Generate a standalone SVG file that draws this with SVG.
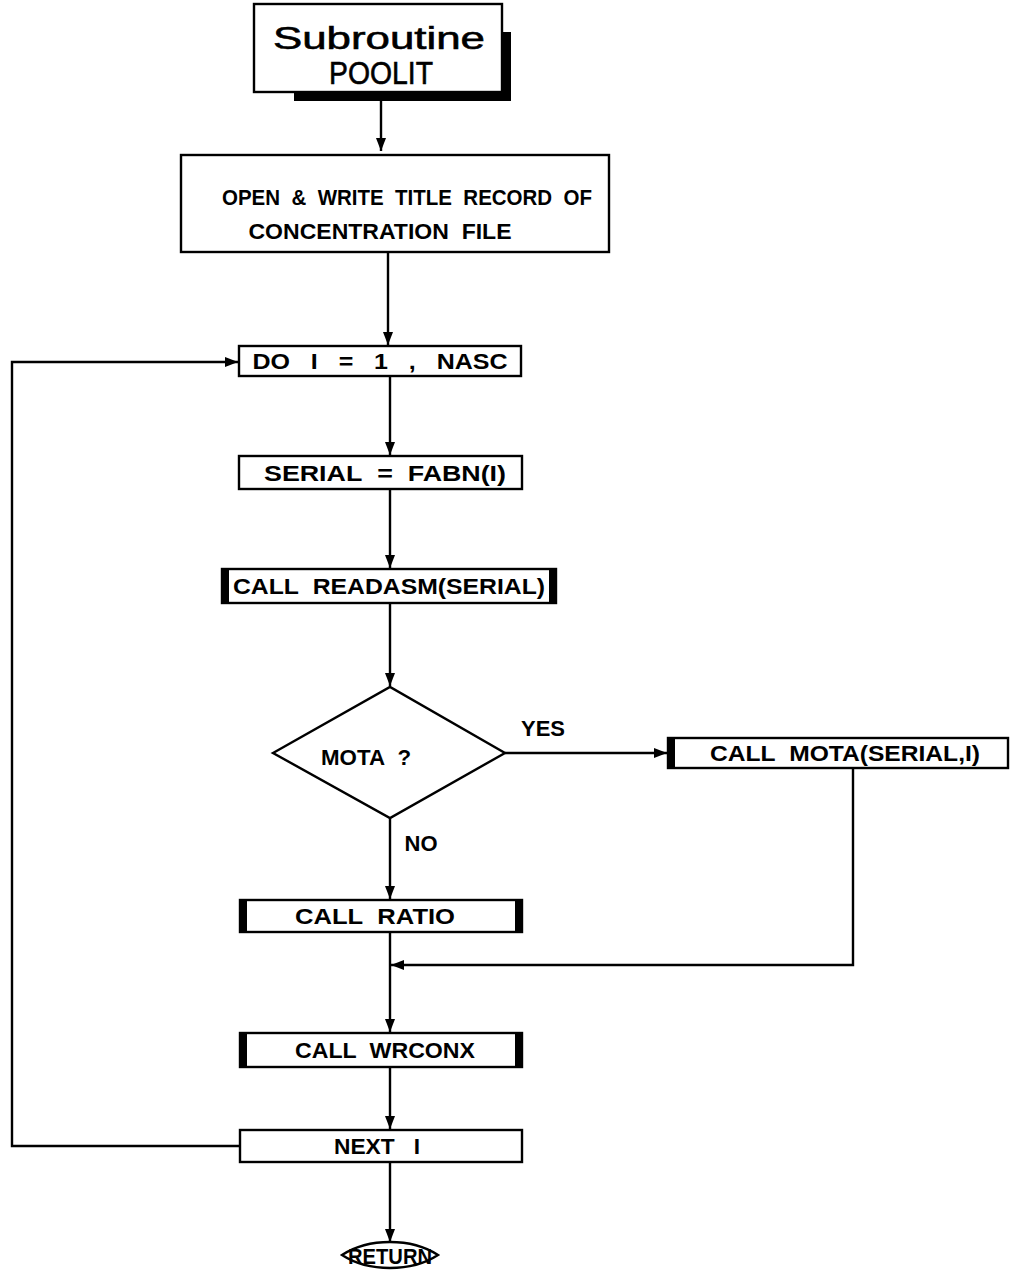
<svg xmlns="http://www.w3.org/2000/svg" width="1013" height="1277" viewBox="0 0 1013 1277">
<style>
.box{fill:#fff;stroke:#000;stroke-width:2.4}
.bar{fill:#000}
.ln{fill:none;stroke:#000;stroke-width:2.4}
.t{font-family:"Liberation Sans",Arial,sans-serif;font-weight:bold;font-size:22px;fill:#000;text-anchor:middle}
.tt{font-family:"Liberation Sans",Arial,sans-serif;font-size:32px;fill:#000;stroke:#000;stroke-width:0.6;text-anchor:middle}
</style>
<defs>
<marker id="arr" viewBox="0 0 13 10" refX="13" refY="5" markerWidth="13" markerHeight="10" markerUnits="userSpaceOnUse" orient="auto">
<path d="M0,0 L13,5 L0,10 z" fill="#000"/>
</marker>
</defs>
<rect width="1013" height="1277" fill="#fff"/>
<g id="connectors">
<path class="ln" d="M381,92 V151" marker-end="url(#arr)"/>
<path class="ln" d="M388,252 V345" marker-end="url(#arr)"/>
<path class="ln" d="M390,376 V455" marker-end="url(#arr)"/>
<path class="ln" d="M390,489 V568" marker-end="url(#arr)"/>
<path class="ln" d="M390,603 V686" marker-end="url(#arr)"/>
<path class="ln" d="M505,753 H667" marker-end="url(#arr)"/>
<path class="ln" d="M390,818 V899" marker-end="url(#arr)"/>
<path class="ln" d="M853,768 V965 H391" marker-end="url(#arr)"/>
<path class="ln" d="M390,932 V1032" marker-end="url(#arr)"/>
<path class="ln" d="M390,1067 V1129" marker-end="url(#arr)"/>
<path class="ln" d="M240,1146 H12 V362 H238" marker-end="url(#arr)"/>
<path class="ln" d="M390,1162 V1242" marker-end="url(#arr)"/>
<text class="t" x="543" y="736" textLength="44" lengthAdjust="spacingAndGlyphs">YES</text>
<text class="t" x="421" y="851" textLength="33" lengthAdjust="spacingAndGlyphs">NO</text>
</g>
<g id="start">
<rect x="294" y="32" width="217" height="69" fill="#000"/>
<rect class="box" x="254" y="4" width="248" height="88"/>
<text class="tt" x="379" y="49" textLength="212" lengthAdjust="spacingAndGlyphs">Subroutine</text>
<text class="tt" x="381" y="84" textLength="104" lengthAdjust="spacingAndGlyphs">POOLIT</text>
</g>
<g id="open">
<rect class="box" x="181" y="155" width="428" height="97"/>
<text class="t" x="407" y="205" textLength="370" lengthAdjust="spacingAndGlyphs">OPEN&#160;&#160;&amp;&#160;&#160;WRITE&#160;&#160;TITLE&#160;&#160;RECORD&#160;&#160;OF</text>
<text class="t" x="380" y="239" textLength="263" lengthAdjust="spacingAndGlyphs">CONCENTRATION&#160;&#160;FILE</text>
</g>
<g id="do">
<rect class="box" x="239" y="346" width="282" height="30"/>
<text class="t" x="380" y="369" textLength="255" lengthAdjust="spacingAndGlyphs">DO&#160;&#160;&#160;I&#160;&#160;&#160;=&#160;&#160;&#160;1&#160;&#160;&#160;,&#160;&#160;&#160;NASC</text>
</g>
<g id="serial">
<rect class="box" x="239" y="456" width="283" height="33"/>
<text class="t" x="385" y="481" textLength="242" lengthAdjust="spacingAndGlyphs">SERIAL&#160;&#160;=&#160;&#160;FABN(I)</text>
</g>
<g id="readasm">
<rect class="box" x="222" y="569" width="334" height="34"/>
<rect class="bar" x="222" y="569" width="7" height="34"/>
<rect class="bar" x="549" y="569" width="7" height="34"/>
<text class="t" x="389" y="594" textLength="312" lengthAdjust="spacingAndGlyphs">CALL&#160;&#160;READASM(SERIAL)</text>
</g>
<g id="mota-q">
<polygon class="box" points="273,753 390,687 505,753 390,818"/>
<text class="t" x="366" y="765" textLength="90" lengthAdjust="spacingAndGlyphs">MOTA&#160;&#160;?</text>
</g>
<g id="mota">
<rect class="box" x="668" y="738" width="340" height="30"/>
<rect class="bar" x="668" y="738" width="7" height="30"/>
<text class="t" x="845" y="761" textLength="270" lengthAdjust="spacingAndGlyphs">CALL&#160;&#160;MOTA(SERIAL,I)</text>
</g>
<g id="ratio">
<rect class="box" x="240" y="900" width="282" height="32"/>
<rect class="bar" x="240" y="900" width="7" height="32"/>
<rect class="bar" x="515" y="900" width="7" height="32"/>
<text class="t" x="375" y="924" textLength="160" lengthAdjust="spacingAndGlyphs">CALL&#160;&#160;RATIO</text>
</g>
<g id="wrconx">
<rect class="box" x="240" y="1033" width="282" height="34"/>
<rect class="bar" x="240" y="1033" width="7" height="34"/>
<rect class="bar" x="515" y="1033" width="7" height="34"/>
<text class="t" x="385" y="1058" textLength="180" lengthAdjust="spacingAndGlyphs">CALL&#160;&#160;WRCONX</text>
</g>
<g id="next">
<rect class="box" x="240" y="1130" width="282" height="32"/>
<text class="t" x="377" y="1154" textLength="86" lengthAdjust="spacingAndGlyphs">NEXT&#160;&#160;&#160;I</text>
</g>
<g id="return">
<path class="box" d="M342,1255 Q362,1242 390,1242 Q418,1242 438,1255 Q418,1268 390,1268 Q362,1268 342,1255 Z"/>
<text class="t" x="390" y="1264" textLength="84" lengthAdjust="spacingAndGlyphs">RETURN</text>
</g>
</svg>
